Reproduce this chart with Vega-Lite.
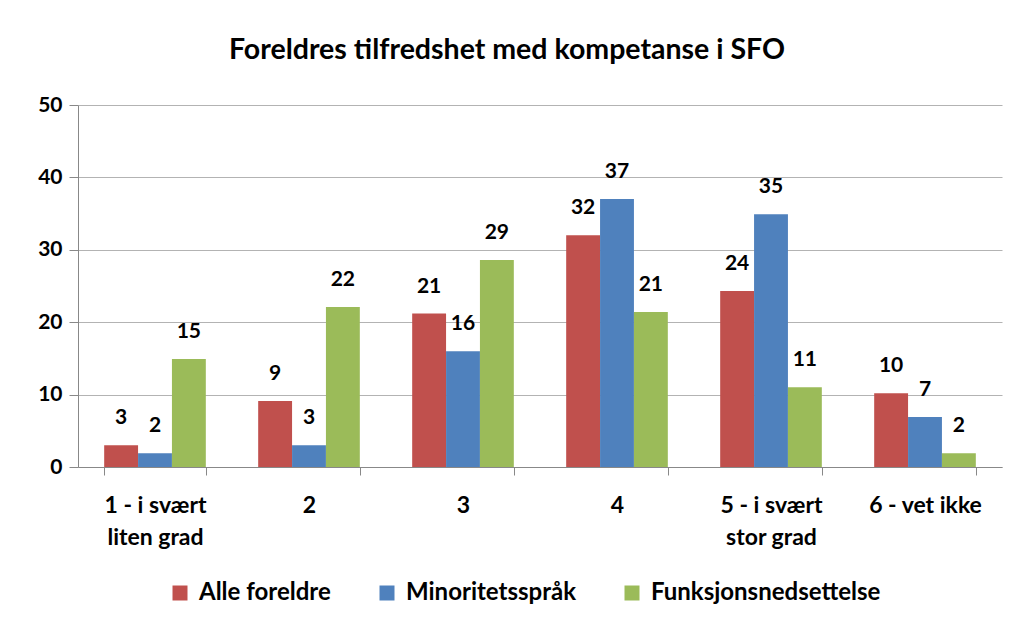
{
  "$schema": "https://vega.github.io/schema/vega-lite/v6.json",
  "width": 924,
  "height": 362,
  "autosize": {"type": "none"},
  "padding": {"left": 78, "top": 105, "right": 14, "bottom": 156},
  "background": "white",
  "config": {"view": {"stroke": null}, "font": "Lato"},
  "title": {"text": "Foreldres tilfredshet  med kompetanse i SFO", "font": "Lato", "fontSize": 28.5, "fontWeight": "bold", "color": "black", "anchor": "middle", "offset": 30, "dx": -33},
  "data": {"values": [
    {"kategori": "1 - i svært|liten grad", "gruppe": "Alle foreldre", "verdi": 3.0},
    {"kategori": "1 - i svært|liten grad", "gruppe": "Minoritetsspråk", "verdi": 1.9},
    {"kategori": "1 - i svært|liten grad", "gruppe": "Funksjonsnedsettelse", "verdi": 14.9},
    {"kategori": "2", "gruppe": "Alle foreldre", "verdi": 9.1},
    {"kategori": "2", "gruppe": "Minoritetsspråk", "verdi": 3.0},
    {"kategori": "2", "gruppe": "Funksjonsnedsettelse", "verdi": 22.1},
    {"kategori": "3", "gruppe": "Alle foreldre", "verdi": 21.2},
    {"kategori": "3", "gruppe": "Minoritetsspråk", "verdi": 16.0},
    {"kategori": "3", "gruppe": "Funksjonsnedsettelse", "verdi": 28.6},
    {"kategori": "4", "gruppe": "Alle foreldre", "verdi": 32.0},
    {"kategori": "4", "gruppe": "Minoritetsspråk", "verdi": 37.0},
    {"kategori": "4", "gruppe": "Funksjonsnedsettelse", "verdi": 21.4},
    {"kategori": "5 - i svært|stor grad", "gruppe": "Alle foreldre", "verdi": 24.3},
    {"kategori": "5 - i svært|stor grad", "gruppe": "Minoritetsspråk", "verdi": 34.9},
    {"kategori": "5 - i svært|stor grad", "gruppe": "Funksjonsnedsettelse", "verdi": 11.0},
    {"kategori": "6 - vet ikke", "gruppe": "Alle foreldre", "verdi": 10.2},
    {"kategori": "6 - vet ikke", "gruppe": "Minoritetsspråk", "verdi": 6.9},
    {"kategori": "6 - vet ikke", "gruppe": "Funksjonsnedsettelse", "verdi": 1.9}
  ]},
  "encoding": {
    "x": {
      "field": "kategori", "type": "nominal", "sort": null,
      "scale": {"paddingInner": 0.34, "paddingOuter": 0.17},
      "axis": {
        "title": null, "labelAngle": 0, "grid": false,
        "domainColor": "#888888", "tickColor": "#888888", "tickSize": 8, "tickBand": "extent",
        "labelFont": "Lato", "labelFontSize": 23, "labelFontWeight": "bold", "labelColor": "black",
        "labelPadding": 19, "labelLineHeight": 32, "labelLimit": 300,
        "labelExpr": "isValid(datum.value) ? split(datum.value, '|') : ''"
      }
    },
    "xOffset": {"field": "gruppe", "sort": ["Alle foreldre", "Minoritetsspråk", "Funksjonsnedsettelse"], "scale": {"paddingInner": 0, "paddingOuter": 0}},
    "y": {
      "field": "verdi", "type": "quantitative",
      "scale": {"domain": [0, 50]},
      "axis": {
        "title": null, "values": [0, 10, 20, 30, 40, 50],
        "grid": true, "gridColor": "#b3b3b3",
        "domainColor": "#888888", "tickColor": "#888888", "tickSize": 9,
        "labelFont": "Lato", "labelFontSize": 21, "labelFontWeight": "bold", "labelColor": "black", "labelPadding": 7
      }
    }
  },
  "layer": [
    {
      "mark": {"type": "bar"},
      "encoding": {
        "color": {
          "field": "gruppe", "type": "nominal",
          "scale": {"domain": ["Alle foreldre", "Minoritetsspråk", "Funksjonsnedsettelse"], "range": ["#C0504D", "#4F81BD", "#9BBB59"]},
          "legend": {
            "title": null, "orient": "none", "legendX": 90, "legendY": 476, "direction": "horizontal",
            "symbolType": "square", "symbolSize": 225, "symbolStrokeWidth": 0, "labelOffset": 7,
            "labelFont": "Lato", "labelFontSize": 24, "labelFontWeight": "bold", "labelColor": "black",
            "labelLimit": 400, "columnPadding": 44
          }
        }
      }
    },
    {
      "mark": {"type": "text", "font": "Lato", "fontSize": 21, "fontWeight": "bold", "color": "black", "baseline": "middle", "dy": -27},
      "encoding": {"text": {"field": "verdi", "type": "quantitative", "format": ".0f"}}
    }
  ]
}
